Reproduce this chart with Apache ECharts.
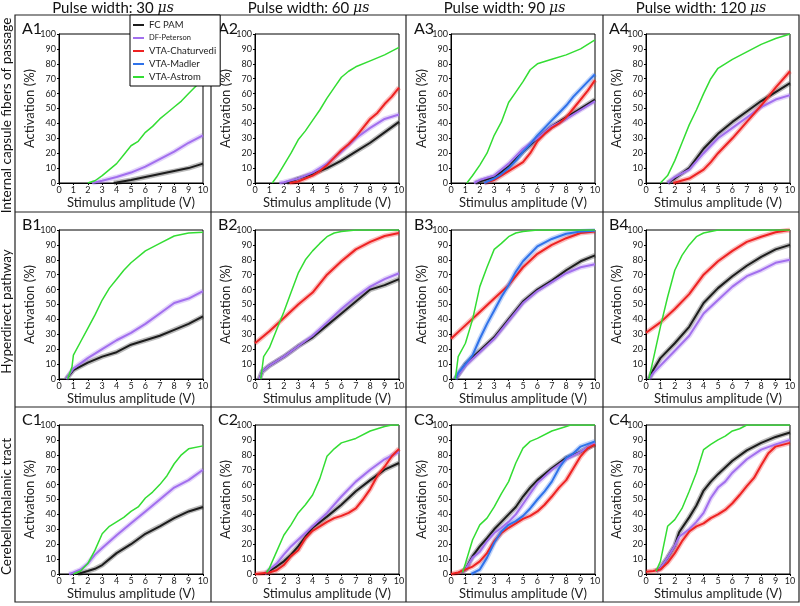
<!DOCTYPE html>
<html><head><meta charset="utf-8">
<script src="https://cdn.jsdelivr.net/npm/echarts@6/dist/echarts.min.js"></script>
<style>html,body{margin:0;padding:0;background:#fff}#c{width:800px;height:606px}</style>
</head><body><div id="c"></div><script>
// ---- data: [stimulus amplitude (V), activation (%)] ----
const A1_FC = [[3.8,0],[4,0.3],[5,2],[6,4],[7,6],[8,8],[9,10],[10,13]];
const A1_DF = [[2.3,0],[3,1.5],[4,4],[5,7],[6,11],[7,16],[8,21],[9,27],[10,32]];
const A1_ASTROM = [[2,0],[2.5,1.5],[3,5],[3.5,9],[4,13],[4.5,19],[5,25],[5.5,28],[6,34],[6.5,38],[7,43],[7.5,47],[8,51],[8.5,55],[9,60],[9.5,65],[10,69]];

const A2_FC = [[2.2,0],[3,3],[4,6],[5,10],[6,15],[7,21],[8,27],[9,34],[10,41]];
const A2_DF = [[1.7,0],[2,0.5],[3,3],[4,7],[5,13],[6,21],[7,30],[8,37],[9,43],[10,46]];
const A2_CHAT = [[2.4,0],[3,1],[3.5,3],[4,5],[4.5,8],[5,12],[5.5,17],[6,22],[6.5,26],[7,31],[7.5,37],[8,43],[8.5,47],[9,53],[9.5,58],[10,64]];
const A2_ASTROM = [[1.2,0],[1.5,4],[2,12],[2.5,20],[3,29],[3.5,35],[4,42],[4.5,49],[5,57],[5.5,64],[6,71],[6.5,75],[7,78],[8,82],[9,86],[10,91]];

const A3_FC = [[1.7,0],[2,1],[3,4],[4,11],[5,21],[6,30],[7,38],[8,44],[9,50],[10,56]];
const A3_DF = [[1.6,0],[2,2],[3,5],[4,13],[5,23],[6,30],[7,38],[8,43],[9,49],[10,55]];
const A3_CHAT = [[2.3,0],[3,2],[4,8],[5,14],[5.5,20],[6,28],[6.5,33],[7,37],[7.5,40],[8,44],[8.5,50],[9,56],[9.5,62],[10,69]];
const A3_MADLER = [[2.3,0],[3,3],[3.5,6],[4,10],[4.5,15],[5,21],[5.5,26],[6,32],[6.5,37],[7,42],[7.5,47],[8,52],[8.5,58],[9,63],[9.5,68],[10,73]];
const A3_ASTROM = [[1.1,0],[1.5,5],[2,12],[2.5,20],[3,32],[3.5,41],[4,54],[4.5,61],[5,68],[5.5,76],[6,80],[7,83],[8,86],[9,90],[10,96]];

const A4_FC = [[1.5,0],[2,3],[3,10],[4,23],[5,33],[6,41],[7,48],[8,55],[9,61],[10,67]];
const A4_DF = [[1.5,0],[2,4],[3,9],[4,20],[5,30],[6,37],[7,44],[8,51],[9,56],[10,59]];
const A4_CHAT = [[1.9,0],[3,3],[4,9],[4.5,14],[5,20],[6,30],[7,41],[8,52],[9,64],[10,75]];
const A4_ASTROM = [[1,0],[1.5,5],[2,15],[2.5,27],[3,39],[3.5,49],[4,60],[4.5,70],[5,77],[5.5,80],[6,83],[7,88],[8,93],[9,97],[10,100]];

const B1_FC = [[0.5,0],[1,6],[2,11],[3,15],[4,18],[5,23],[6,26],[7,29],[8,33],[9,37],[10,42]];
const B1_DF = [[0.5,0],[1,7],[2,14],[3,20],[4,26],[5,31],[6,37],[7,44],[8,51],[9,54],[10,59]];
const B1_ASTROM = [[0.6,0],[0.9,8],[1,16],[1.5,25],[2,34],[2.5,43],[3,53],[3.5,61],[4,67],[4.5,73],[5,78],[6,86],[7,91],[8,96],[9,98],[10,98.5]];

const B2_FC = [[0.3,0],[0.5,5],[1,9],[2,15],[3,22],[4,28],[5,36],[6,44],[7,52],[8,60],[9,63],[10,67]];
const B2_DF = [[0.3,0],[0.5,5],[1,9],[2,15],[3,22],[4,29],[5,38],[6,47],[7,55],[8,62],[9,67],[10,71]];
const B2_CHAT = [[0,24],[1,32],[2,41],[3,50],[4,58],[5,70],[6,79],[7,87],[8,92],[9,96],[10,98]];
const B2_ASTROM = [[0.4,0],[0.6,15],[1,21],[1.5,33],[2,45],[2.5,58],[3,71],[3.5,80],[4,86],[4.5,91],[5,95.5],[5.5,98],[6,99],[7,100],[10,100]];

const B3_FC = [[0.3,0],[1,10],[2,19],[3,28],[4,40],[5,52],[6,60],[7,66],[8,73],[9,79],[10,83]];
const B3_DF = [[0.3,0],[1,9],[2,18],[3,27],[4,39],[5,51],[6,59],[7,65],[8,71],[9,75],[10,77]];
const B3_CHAT = [[0,27],[1,36],[2,45],[3,54],[4,63],[5,75],[6,84],[7,90],[8,94.5],[9,98],[10,99]];
const B3_MADLER = [[0.3,0],[0.5,4],[1,10],[1.5,16],[2,27],[2.5,37],[3,46],[3.5,55],[4,63],[4.5,72],[5,79],[6,89],[7,94],[8,97.5],[9,99],[10,99.5]];
const B3_ASTROM = [[0.3,0],[0.5,15],[1,24],[1.5,40],[2,62],[2.5,75],[3,87],[3.5,91],[4,95.5],[4.5,98],[5,99],[6,100],[10,100]];

const B4_FC = [[0.2,0],[0.5,6],[1,14],[2,24],[3,35],[4,51],[5,61],[6,69],[7,76],[8,82],[9,87],[10,90]];
const B4_DF = [[0.2,0],[0.5,4],[1,9],[2,19],[3,29],[4,44],[5,53],[6,62],[7,69],[8,73],[9,78],[10,80]];
const B4_CHAT = [[0,31],[1,38],[2,47],[3,57],[4,70],[5,79],[6,86],[7,92],[8,95.5],[9,98.5],[10,100]];
const B4_ASTROM = [[0.2,0],[0.5,13],[1,35],[1.5,55],[2,73],[2.5,83],[3,90],[3.5,95.5],[4,98],[4.5,99],[5,100],[10,100]];

const C1_FC = [[1.3,0],[2,2],[2.5,3.5],[3,6],[4,14],[5,20],[6,27],[7,32],[8,37.5],[9,42],[10,45]];
const C1_DF = [[0.7,0],[1,1],[1.5,3],[2,7],[2.5,13],[3,17.5],[4,26],[5,34],[6,42],[7,50],[8,58],[9,63],[10,70]];
const C1_ASTROM = [[1,0],[1.5,2],[2,7],[2.5,16],[3,27],[3.5,32],[4,35],[4.5,38],[5,42],[5.5,45],[6,51],[6.5,55],[7,60],[7.5,66],[8,74],[8.5,80],[9,84],[10,86]];

const C2_FC = [[0.8,0],[1,2],[1.5,5],[2,8.5],[2.5,13],[3,18.5],[3.5,25],[4,31],[5,38.5],[6,46.5],[7,55.5],[8,63],[9,70],[10,74.5]];
const C2_DF = [[0.7,0],[1,3],[1.5,7],[2,13],[2.5,18.5],[3,23],[3.5,27.5],[4,32],[5,41],[6,52],[7,62],[8,70],[9,77],[10,82]];
const C2_CHAT = [[0,0],[1,1],[1.5,2.5],[2,6],[2.5,12],[3,16],[3.5,24],[4,29],[4.5,32],[5,35],[5.5,37.5],[6,39],[6.5,41],[7,44],[7.5,50],[8,57],[8.5,66],[9,72],[9.5,79],[10,84]];
const C2_ASTROM = [[0.8,1],[1,4],[1.5,15],[2,26],[2.5,33],[3,41],[3.5,46.5],[4,53],[4.5,64],[5,79],[5.5,84],[6,88],[7,91],[8,96],[9,99],[9.5,100],[10,100]];

const C3_FC = [[0.7,1],[1,3],[1.5,12],[2,18.5],[2.5,24],[3,30],[3.5,35],[4,40],[4.5,45],[5,52],[5.5,58],[6,63],[7,71],[8,78],[9,82],[10,87]];
const C3_DF = [[0.7,1],[1,3],[1.5,11],[2,15],[2.5,22],[3,27.5],[3.5,31],[4,35],[4.5,40],[5,47],[5.5,54],[6,61],[7,70],[8,77],[9,82],[10,88]];
const C3_CHAT = [[0,0],[0.5,1],[1,3],[1.5,5],[2,8.5],[2.5,14],[3,22],[3.5,27.5],[4,31],[4.5,34],[5,37],[5.5,39],[6,42],[6.5,46.5],[7,52],[7.5,58],[8,63],[8.5,71],[9,79],[9.5,84.5],[10,87]];
const C3_MADLER = [[1.4,0],[2,3],[2.5,11],[3,21],[3.5,28.5],[4,33],[4.5,35.5],[5,39],[5.5,44],[6,50],[6.5,55.5],[7,62],[7.5,71],[8,78],[8.5,81],[9,85.5],[10,89]];
const C3_ASTROM = [[0.8,1],[1,7],[1.5,23],[2,33],[2.5,37.5],[3,45],[3.5,54],[4,62],[4.5,74.5],[5,84.5],[5.5,89],[6,91],[7,96],[8,99],[8.3,100],[10,100]];

const C4_FC = [[0.7,2],[1,4],[1.5,11],[2,19],[2.3,28],[3,38],[3.5,46],[4,56],[4.5,62],[5,67],[6,76],[7,83],[8,88],[9,92],[10,95]];
const C4_DF = [[0.7,2],[1,4],[1.5,11],[2,19],[2.3,25],[3,30],[3.5,35],[4,41],[4.5,51],[5,58],[5.5,62],[6,68],[7,77],[8,83.5],[9,87],[10,90]];
const C4_CHAT = [[0,1.5],[0.5,2],[1,3],[1.5,7.5],[2,14],[2.5,22],[3,28.5],[3.5,32],[4,34],[4.5,37.5],[5,40],[5.5,43],[6,47.5],[6.5,53],[7,59],[7.5,64.5],[8,73],[8.5,81],[9,85.5],[10,88]];
const C4_ASTROM = [[0.7,2],[1,8.5],[1.5,32],[2,36.5],[2.5,44],[3,55.5],[3.5,68],[4,83.5],[4.5,87],[5,90],[5.5,92.5],[6,96],[6.5,97.5],[7,100],[10,100]];

// ---- labels ----
const SERIES_NAMES = ['FC PAM','DF-Peterson','VTA-Chaturvedi','VTA-Madler','VTA-Astrom'];
const SERIES_KEYS = ['FC','DF','CHAT','MADLER','ASTROM'];
const SERIES_COLORS = ['#1c1c1c','#a26fee','#ee2222','#2f72ea','#33dd33'];
const PULSE_WIDTHS = ['30','60','90','120'];
const ROW_LABELS = ['Internal capsule fibers of passage','Hyperdirect pathway','Cerebellothalamic tract'];
const PANEL_LABELS = ['A1','A2','A3','A4','B1','B2','B3','B4','C1','C2','C3','C4'];
const X_TICKS = [0,10,1];
const Y_TICKS = [0,100,10];

const PANELS = [
  {FC:A1_FC, DF:A1_DF, ASTROM:A1_ASTROM},
  {FC:A2_FC, DF:A2_DF, CHAT:A2_CHAT, ASTROM:A2_ASTROM},
  {FC:A3_FC, DF:A3_DF, CHAT:A3_CHAT, MADLER:A3_MADLER, ASTROM:A3_ASTROM},
  {FC:A4_FC, DF:A4_DF, CHAT:A4_CHAT, ASTROM:A4_ASTROM},
  {FC:B1_FC, DF:B1_DF, ASTROM:B1_ASTROM},
  {FC:B2_FC, DF:B2_DF, CHAT:B2_CHAT, ASTROM:B2_ASTROM},
  {FC:B3_FC, DF:B3_DF, CHAT:B3_CHAT, MADLER:B3_MADLER, ASTROM:B3_ASTROM},
  {FC:B4_FC, DF:B4_DF, CHAT:B4_CHAT, ASTROM:B4_ASTROM},
  {FC:C1_FC, DF:C1_DF, ASTROM:C1_ASTROM},
  {FC:C2_FC, DF:C2_DF, CHAT:C2_CHAT, ASTROM:C2_ASTROM},
  {FC:C3_FC, DF:C3_DF, CHAT:C3_CHAT, MADLER:C3_MADLER, ASTROM:C3_ASTROM},
  {FC:C4_FC, DF:C4_DF, CHAT:C4_CHAT, ASTROM:C4_ASTROM}
];

// ---- layout ----
const FONT = 'Lato';
const GRID_LEFT = [59, 255, 451, 646];
const GRID_TOP = [34, 230, 425];
const GRID_W = 144, GRID_H = 149;
const BOX_X = [15, 211, 406, 603, 799];
const BOX_Y = [15, 212, 407, 602];

const grids = [], xAxes = [], yAxes = [], series = [], graphics = [];
PANELS.forEach((p, i) => {
  const r = Math.floor(i / 4), c = i % 4;
  grids.push({left: GRID_LEFT[c], top: GRID_TOP[r], width: GRID_W, height: GRID_H,
    show: true, borderColor: '#000', borderWidth: 1, backgroundColor: 'transparent',
    containLabel: false, outerBoundsMode: 'none'});
  xAxes.push({type: 'value', gridIndex: i, min: X_TICKS[0], max: X_TICKS[1], interval: X_TICKS[2],
    name: 'Stimulus amplitude (V)', nameLocation: 'middle', nameGap: 11,
    nameTextStyle: {fontFamily: FONT, fontSize: 13, color: '#222', verticalAlign: 'top'},
    axisLine: {show: true, onZero: false, lineStyle: {color: '#000', width: 1}},
    axisTick: {show: true, length: 2, lineStyle: {color: '#000'}},
    axisLabel: {fontFamily: FONT, fontSize: 9, color: '#222', margin: 3},
    splitLine: {show: false}});
  yAxes.push({type: 'value', gridIndex: i, min: Y_TICKS[0], max: Y_TICKS[1], interval: Y_TICKS[2],
    name: 'Activation (%)', nameLocation: 'middle', nameGap: 22,
    nameTextStyle: {fontFamily: FONT, fontSize: 13, color: '#222'},
    axisLine: {show: true, onZero: false, lineStyle: {color: '#000', width: 1}},
    axisTick: {show: true, length: 2, lineStyle: {color: '#000'}},
    axisLabel: {fontFamily: FONT, fontSize: 9, color: '#222', margin: 3},
    splitLine: {show: false}});
  SERIES_KEYS.forEach((k, si) => {
    if (!p[k]) return;
    const col = SERIES_COLORS[si];
    const green = k === 'ASTROM';
    if (!green) {
      series.push({type: 'line', name: SERIES_NAMES[si] + ' band', xAxisIndex: i, yAxisIndex: i,
        data: p[k], showSymbol: false, symbol: 'none', silent: true, z: 2,
        lineStyle: {color: col, width: 5, opacity: 0.3}, itemStyle: {color: col}});
    }
    series.push({type: 'line', name: SERIES_NAMES[si], xAxisIndex: i, yAxisIndex: i,
      data: p[k], showSymbol: false, symbol: 'none', silent: true, z: 3,
      lineStyle: {color: col, width: green ? 1.5 : 2}, itemStyle: {color: col}});
  });
  graphics.push({type: 'text', left: GRID_LEFT[c] - 37, top: GRID_TOP[r] - 13,
    style: {text: PANEL_LABELS[i], fontFamily: FONT, fontSize: 16, fill: '#111'}});
});

// frame lines
graphics.push({type: 'rect', shape: {x: BOX_X[0], y: BOX_Y[0], width: BOX_X[4] - BOX_X[0], height: BOX_Y[3] - BOX_Y[0]},
  style: {fill: 'none', stroke: '#222', lineWidth: 1.2}, z: 0});
[1, 2, 3].forEach(j => graphics.push({type: 'line',
  shape: {x1: BOX_X[j], y1: BOX_Y[0], x2: BOX_X[j], y2: BOX_Y[3]}, style: {stroke: '#222', lineWidth: 1.2}}));
[1, 2].forEach(j => graphics.push({type: 'line',
  shape: {x1: BOX_X[0], y1: BOX_Y[j], x2: BOX_X[4], y2: BOX_Y[j]}, style: {stroke: '#222', lineWidth: 1.2}}));
// column titles
PULSE_WIDTHS.forEach((w, c) => graphics.push({type: 'text', x: (BOX_X[c] + BOX_X[c + 1]) / 2, y: 8,
  style: {text: '{t|Pulse width: ' + w + ' }{m|μs}', fontFamily: FONT, fontSize: 15, fill: '#111',
    align: 'center', verticalAlign: 'middle',
    rich: {t: {fontFamily: FONT, fontSize: 15, fill: '#111'},
           m: {fontFamily: 'DejaVu Serif', fontStyle: 'italic', fontSize: 14, fill: '#111'}}}}));
// row labels
ROW_LABELS.forEach((t, r) => graphics.push({type: 'text', x: 7, y: (BOX_Y[r] + BOX_Y[r + 1]) / 2 + 2,
  rotation: Math.PI / 2,
  style: {text: t, fontFamily: FONT, fontSize: 13.5, fill: '#111', align: 'center', verticalAlign: 'middle'}}));

const chart = echarts.init(document.getElementById('c'), null, {renderer: 'canvas'});
chart.setOption({
  animation: false,
  backgroundColor: '#fff',
  grid: grids, xAxis: xAxes, yAxis: yAxes, series: series,
  legend: {data: SERIES_NAMES, orient: 'vertical', left: 130, top: 15,
    padding: [5, 4, 4, 3], itemGap: 3, itemWidth: 11, itemHeight: 2, icon: 'rect',
    backgroundColor: '#fff', borderColor: '#000', borderWidth: 1, selectedMode: false,
    formatter: n => n === 'DF-Peterson' ? '{s|' + n + '}' : n,
    textStyle: {fontFamily: FONT, fontSize: 9.5, color: '#222', lineHeight: 10,
      rich: {s: {fontFamily: FONT, fontSize: 7.5, color: '#222'}}}},
  graphic: graphics
});
</script></body></html>
